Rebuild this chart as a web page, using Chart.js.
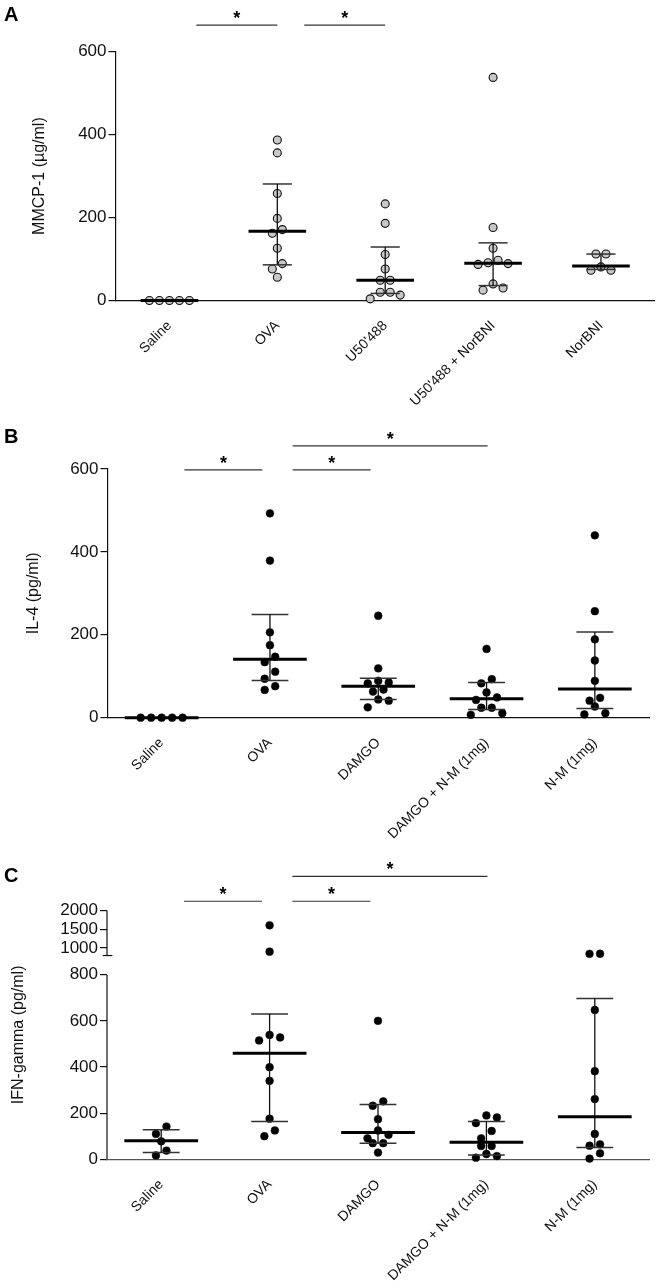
<!DOCTYPE html>
<html><head><meta charset="utf-8">
<script src="https://cdn.jsdelivr.net/npm/chart.js@4.4.1/dist/chart.umd.min.js"></script>
<style>
html,body{margin:0;padding:0;background:#fff;}
body{width:660px;height:1288px;position:relative;overflow:hidden;}
canvas{position:absolute;left:0;}
</style></head><body>
<canvas id="cA" style="top:0px" width="660" height="420"></canvas>
<canvas id="cB" style="top:415px" width="660" height="445"></canvas>
<canvas id="cC" style="top:840px" width="660" height="448"></canvas>
<script>
// ---------- Panel A : MMCP-1 ----------
const catsA = ['Saline', 'OVA', "U50'488", "U50'488 + NorBNI", 'NorBNI'];
const mmcpSaline = [0, 0, 0, 0, 0];
const mmcpOVA = [387, 356, 258, 198, 171, 162, 126, 89, 76, 56];
const mmcpU50 = [233, 186, 111, 76, 49, 49, 20, 20, 13, 4];
const mmcpU50Nor = [538, 176, 126, 97, 91, 89, 87, 40, 30, 25];
const mmcpNor = [112, 112, 81, 73, 73];
const mmcpMedian = [0, 167, 49, 90, 83];
const mmcpLow = [0, 86, 17, 36, 75];
const mmcpHigh = [0, 281, 129, 139, 112];
const ticksA = [0, 200, 400, 600];
const sigA = [[0, 1], [1, 2]];

// ---------- Panel B : IL-4 ----------
const catsB = ['Saline', 'OVA', 'DAMGO', 'DAMGO + N-M (1mg)', 'N-M (1mg)'];
const il4Saline = [0, 0, 0, 0, 0];
const il4OVA = [493, 379, 206, 175, 147, 134, 111, 94, 76, 67];
const il4DAMGO = [246, 119, 89, 85, 83, 68, 63, 44, 41, 25];
const il4DAMGONM = [166, 93, 83, 61, 49, 43, 24, 24, 11, 7];
const il4NM = [440, 257, 189, 138, 89, 48, 41, 27, 11, 8];
const il4Median = [0, 141, 76, 46, 69];
const il4Low = [0, 90, 44, 20, 22];
const il4High = [0, 249, 95, 85, 207];
const ticksB = [0, 200, 400, 600];
const sigB = [[0, 1], [1, 2], [1, 3]];

// ---------- Panel C : IFN-gamma ----------
const catsC = ['Saline', 'OVA', 'DAMGO', 'DAMGO + N-M (1mg)', 'N-M (1mg)'];
const ifnSaline = [142, 110, 78, 38, 17];
const ifnOVA = [1604, 904, 539, 528, 515, 399, 340, 176, 125, 100];
const ifnDAMGO = [600, 251, 232, 174, 125, 106, 91, 70, 70, 29];
const ifnDAMGONM = [190, 181, 157, 123, 91, 58, 58, 23, 14, 7];
const ifnNM = [848, 845, 647, 382, 261, 110, 65, 59, 26, 3];
const ifnMedian = [80, 459, 116, 74, 184];
const ifnLow = [29, 164, 70, 19, 51];
const ifnHigh = [128, 630, 237, 164, 697];
const ticksC = [0, 200, 400, 600, 800, 1000, 1500, 2000];
const sigC = [[0, 1], [1, 2], [1, 3]];

// ---------- drawing ----------
const FONT = "'Liberation Sans', Arial, Helvetica, sans-serif";
const INK = '#111';

// broken axis for panel C
const BRK = 800, GAP = 82.8, KUP = 0.163;
function tfC(v) { return v <= BRK ? v : BRK + GAP + (v - BRK) * KUP; }

function buildPanel(o) {
  const tf = o.tf || (v => v);
  const ds = [];
  const swarmInfo = [];
  o.groups.forEach((vals, g) => {
    swarmInfo.push({ idx: ds.length, g, vals });
    ds.push({ data: vals.map(v => ({ x: g, y: tf(v) })), showLine: false,
      pointRadius: o.r, pointBackgroundColor: o.fill, pointBorderColor: '#111',
      pointBorderWidth: o.bw, clip: false, order: 3 });
  });
  const seg = (x1, y1, x2, y2, color, w, order) => ds.push({
    data: [{ x: x1, y: y1 }, { x: x2, y: y2 }], showLine: true, pointRadius: 0,
    borderColor: color, borderWidth: w, clip: false, order, borderCapStyle: 'butt' });
  o.med.forEach((m, g) => {
    seg(g - o.mw, tf(m), g + o.mw, tf(m), '#000', 3, 1);
    if (o.hi[g] > o.lo[g]) {
      seg(g, tf(o.lo[g]), g, tf(o.hi[g]), '#111', 1.3, 2);
      seg(g - o.cw, tf(o.hi[g]), g + o.cw, tf(o.hi[g]), '#333', 1.5, 2);
      seg(g - o.cw, tf(o.lo[g]), g + o.cw, tf(o.lo[g]), '#333', 1.5, 2);
    }
  });
  const stars = [];
  o.sig.forEach(([i, j], k) => {
    const x1 = i + o.sigStart, x2 = j + (j - i > 1 ? o.sigEndLong : o.sigEnd);
    const h = tf(o.sigH[k]);
    seg(x1, h, x2, h, '#333', 1.2, 2);
    stars.push({ x: (x1 + x2) / 2, y: h });
  });
  if (o.brokenAxis) {
    const L = -0.5;
    seg(L, 0, L, tf(BRK), INK, 1.2, 2);
    seg(L, BRK + GAP, L, tf(o.ticks[o.ticks.length - 1]), INK, 1.2, 2);
    seg(L - 0.04, BRK + GAP, L + 0.05, BRK + GAP, INK, 1.2, 2);
  }
  const textPlugin = {
    id: 'txt',
    afterDatasetsDraw(chart) {
      const c = chart.ctx, xs = chart.scales.x, ys = chart.scales.y;
      c.save();
      c.fillStyle = '#000';
      c.font = 'bold 18px ' + FONT;
      c.textAlign = 'center';
      c.textBaseline = 'alphabetic';
      stars.forEach(s => c.fillText('*', xs.getPixelForValue(s.x), ys.getPixelForValue(s.y) - 1));
      c.font = 'bold 20px ' + FONT;
      c.textAlign = 'left';
      c.fillText(o.letter, 4, o.letterY);
      c.restore();
    }
  };
  const chart = new Chart(document.getElementById(o.id), {
    type: 'scatter',
    data: { datasets: ds },
    options: {
      responsive: false, animation: false, events: [],
      layout: { padding: { top: o.area.top, right: 660 - o.area.right, left: 0, bottom: 0 } },
      plugins: { legend: { display: false }, tooltip: { enabled: false } },
      scales: {
        x: {
          type: 'linear', min: -0.5, max: 4.5,
          afterBuildTicks: s => { s.ticks = o.cats.map((c, i) => ({ value: i })); },
          afterFit: s => { s.height = o.canvasH - o.area.bottom; },
          grid: { display: false },
          border: { display: true, color: o.xAxisColor || INK, width: 1.3 },
          ticks: { autoSkip: false, minRotation: 45, maxRotation: 45, padding: o.xPad,
            color: INK, font: { family: FONT, size: 14 },
            callback: (v) => o.cats[Math.round(v)] }
        },
        y: {
          type: 'linear', min: 0, max: tf(o.ticks[o.ticks.length - 1]),
          afterBuildTicks: s => { s.ticks = o.ticks.map(v => ({ value: tf(v) })); },
          afterFit: s => { s.width = o.area.left; },
          grid: { drawOnChartArea: false, drawTicks: true, tickLength: 7, color: INK, lineWidth: 1.2 },
          border: { display: !o.brokenAxis, color: INK, width: 1.2 },
          ticks: { padding: 2, color: INK, font: { family: FONT, size: 17 },
            callback: (v, idx) => String(o.ticks[idx]) },
          title: { display: true, text: o.yTitle, color: INK, font: { family: FONT, size: 16 },
            padding: { top: o.titlePad, bottom: 0 } }
        }
      }
    },
    plugins: [textPlugin]
  });
  // bee-swarm spreading of the points (horizontal layout only)
  const xs = chart.scales.x, ys = chart.scales.y;
  const slot = xs.getPixelForValue(1) - xs.getPixelForValue(0);
  swarmInfo.forEach(info => {
    const pts = info.vals.map((v, k) => ({ k, py: ys.getPixelForValue(tf(v)), off: 0 }));
    const sorted = pts.slice().sort((a, b) => a.py - b.py);
    let i = 0;
    while (i < sorted.length) {
      const row = [sorted[i]];
      let j = i + 1;
      while (j < sorted.length && sorted[j].py - sorted[i].py < o.rowPx) { row.push(sorted[j]); j++; }
      const n = row.length;
      const offs = [];
      for (let q = 0; q < n; q++) offs.push(q - (n - 1) / 2);
      offs.sort((a, b) => Math.abs(a) - Math.abs(b) || b - a);
      row.forEach((p, q) => { p.off = offs[q]; });
      i = j;
    }
    chart.data.datasets[info.idx].data = info.vals.map((v, k) => ({
      x: info.g + pts[k].off * o.stepPx / slot, y: tf(v) }));
  });
  chart.update('none');
  return chart;
}

buildPanel({
  id: 'cA', canvasH: 420, area: { left: 115.5, right: 658, top: 51.7, bottom: 300.5 },
  cats: catsA, groups: [mmcpSaline, mmcpOVA, mmcpU50, mmcpU50Nor, mmcpNor],
  med: mmcpMedian, lo: mmcpLow, hi: mmcpHigh, ticks: ticksA,
  sig: sigA, sigH: [664, 664], sigStart: 0.25, sigEnd: 0, sigEndLong: 0,
  yTitle: 'MMCP-1 (µg/ml)', titlePad: 30.4, letter: 'A', letterY: 21,
  r: 4, bw: 1.1, fill: '#c8c8c8', mw: 0.267, cw: 0.135, xPad: 9,
  stepPx: 10, rowPx: 8
});

buildPanel({
  id: 'cB', canvasH: 445, area: { left: 107.5, right: 649, top: 54, bottom: 302.7 },
  cats: catsB, groups: [il4Saline, il4OVA, il4DAMGO, il4DAMGONM, il4NM],
  med: il4Median, lo: il4Low, hi: il4High, ticks: ticksB,
  sig: sigB, sigH: [598, 598, 656], sigStart: 0.21, sigEnd: -0.07, sigEndLong: 0.01,
  yTitle: 'IL-4 (pg/ml)', titlePad: 24.4, letter: 'B', letterY: 28,
  r: 3.9, bw: 0.5, fill: '#000', mw: 0.34, cw: 0.17, xPad: 9,
  stepPx: 10.5, rowPx: 8
});

buildPanel({
  id: 'cC', canvasH: 448, area: { left: 107, right: 649, top: 70.4, bottom: 319.3 },
  cats: catsC, groups: [ifnSaline, ifnOVA, ifnDAMGO, ifnDAMGONM, ifnNM],
  med: ifnMedian, lo: ifnLow, hi: ifnHigh, ticks: ticksC, tf: tfC, brokenAxis: true,
  sig: sigC, sigH: [2243, 2243, 2904], sigStart: 0.21, sigEnd: -0.07, sigEndLong: 0.01,
  yTitle: 'IFN-gamma (pg/ml)', titlePad: 9.4, letter: 'C', letterY: 42,
  r: 3.9, bw: 0.5, fill: '#000', mw: 0.34, cw: 0.17, xPad: 9, xAxisColor: '#555',
  stepPx: 10.5, rowPx: 8
});
</script>
</body></html>
